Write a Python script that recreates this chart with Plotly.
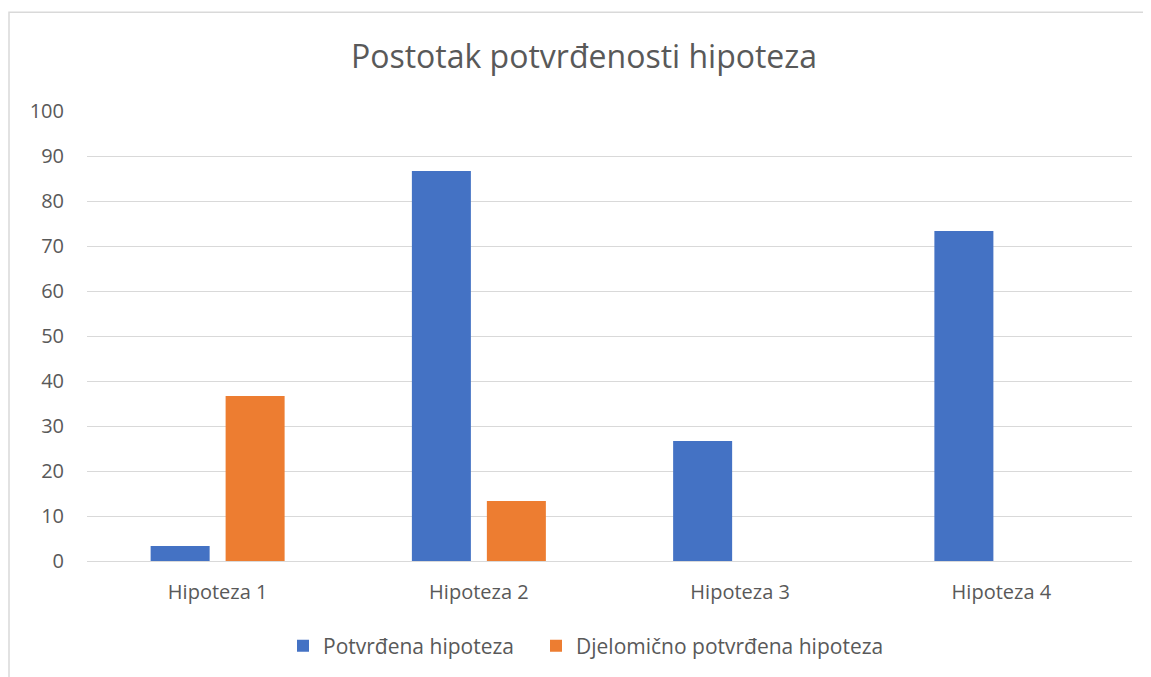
import plotly.graph_objects as go

categories = ["Hipoteza 1", "Hipoteza 2", "Hipoteza 3", "Hipoteza 4"]
potvrdena = [3.33, 86.67, 26.67, 73.33]
djelomicno = [36.67, 13.33, 0, 0]
y_ticks = [0, 10, 20, 30, 40, 50, 60, 70, 80, 90, 100]

FONT = "Open Sans, sans-serif"
GREY = "#595959"

# page body has an 8px margin, so the figure starts at (8, 8)
OFF = 8
W, H = 1151 - OFF, 677 - OFF
L, R, T, B = 87 - OFF, 1151 - 1132, 111 - OFF, 677 - 562
PW, PH = W - L - R, H - T - B

fig = go.Figure()
fig.add_trace(go.Bar(x=categories, y=potvrdena, name="Potvrđena hipoteza", showlegend=True,
                     marker=dict(color="#4472C4", line=dict(width=0)), legend="legend"))
fig.add_trace(go.Bar(x=categories, y=djelomicno, name="Djelomično potvrđena hipoteza",
                     showlegend=True,
                     marker=dict(color="#ED7D31", line=dict(width=0)), legend="legend2"))

leg_common = dict(orientation="h", xanchor="left", y=(562 - 646) / PH, yanchor="middle",
                  font=dict(family=FONT, size=21, color=GREY), itemwidth=30,
                  bgcolor="rgba(0,0,0,0)", visible=True)

fig.update_layout(
    width=W, height=H,
    showlegend=True,
    margin=dict(l=L, r=R, t=T, b=B),
    paper_bgcolor="white", plot_bgcolor="white",
    barmode="group", bargap=0.426, bargroupgap=0.213,
    title=dict(text="Postotak potvrđenosti hipoteza", x=(584 - OFF) / W, xanchor="center",
               y=1 - (57 - OFF) / H, yanchor="middle",
               font=dict(family=FONT, size=32, color=GREY)),
    font=dict(family=FONT, color=GREY, size=20),
    legend=dict(x=(283 - 87) / PW, **leg_common),
    legend2=dict(x=(536 - 87) / PW, **leg_common),
    xaxis=dict(showgrid=False, showline=False, ticks="", ticklabelstandoff=17,
               tickfont=dict(size=20, color=GREY)),
    yaxis=dict(range=[0, 100], tickvals=y_ticks, showgrid=True, gridcolor="#d9d9d9",
               gridwidth=1, zeroline=True, zerolinecolor="#d9d9d9", zerolinewidth=1,
               showline=False, ticks="", ticklabelstandoff=22,
               tickfont=dict(size=20, color=GREY)),
    shapes=[dict(type="rect", xref="paper", yref="paper",
                 x0=(9 - 87) / PW, x1=(1170 - 87) / PW,
                 y0=(562 - 700) / PH, y1=(562 - 12) / PH,
                 line=dict(color="#d9d9d9", width=1.5), fillcolor="rgba(0,0,0,0)",
                 layer="below")],
)

fig.write_html("out.html")
